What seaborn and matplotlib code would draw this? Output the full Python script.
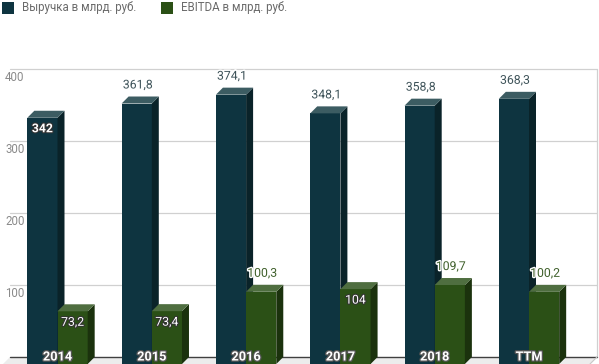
import numpy as np
import pandas as pd
import seaborn as sns
import matplotlib
matplotlib.use("Agg")
import matplotlib.pyplot as plt
import matplotlib.transforms as mtransforms
import matplotlib.patheffects as pe
from matplotlib.patches import Polygon, Rectangle

categories = ["2014", "2015", "2016", "2017", "2018", "TTM"]
revenue = [342, 361.8, 374.1, 348.1, 358.8, 368.3]
ebitda = [73.2, 73.4, 100.3, 104, 109.7, 100.2]
series_names = ["Выручка в млрд. руб.", "EBITDA в млрд. руб."]
label_inside = [[True, False, False, False, False, False],
                [True, True, False, True, False, False]]
y_ticks = [100, 200, 300, 400]

sns.set_theme(style="white")
plt.rcParams["font.family"] = ["Roboto", "DejaVu Sans"]

front_c = ["#0e3440", "#2b5016"]
top_c = ["#3c5c62", "#4f6e40"]
side_c = ["#0a2329", "#1b320d"]
lab_c = ["#3d5258", "#3e5f2a"]

W, H = 599, 364
fig = plt.figure(figsize=(W / 100, H / 100), dpi=100)
# front plane of the 3D box
L, R, T, B = 3, 590, 76, 364
ax = fig.add_axes([L / W, (H - B) / H, (R - L) / W, (B - T) / H])

df = pd.DataFrame({
    "cat": categories * 2,
    "value": revenue + ebitda,
    "series": [series_names[0]] * len(categories) + [series_names[1]] * len(categories),
})
sns.barplot(data=df, x="cat", y="value", hue="series", order=categories,
            hue_order=series_names, palette=front_c, width=0.64, saturation=1,
            legend=False, ax=ax, linewidth=0, zorder=3)

spacing = 94.3
x_left = -54.5 / spacing
ax.set_xlim(x_left, x_left + (R - L) / spacing)
ax.set_ylim(0, 400)
for s in ax.spines.values():
    s.set_visible(False)
ax.set_xlabel("")
ax.set_ylabel("")
ax.set_xticks([])
ax.set_yticks(y_ticks)
ax.set_yticklabels([str(v) for v in y_ticks])
ax.tick_params(axis="y", length=0, pad=-1.5, labelsize=8.3, labelcolor="#8a8a8a")
for lab in ax.get_yticklabels():
    lab.set_horizontalalignment("left")

depth = 7
off = mtransforms.ScaledTranslation(depth / 100, depth / 100, fig.dpi_scale_trans)
back = ax.get_yaxis_transform() + off
# back-wall gridlines
for v in y_ticks:
    ax.plot([0, 1], [v, v], transform=back, color="#d0d0d0", lw=0.9, zorder=1, clip_on=False)
ax.plot([1, 1], [0, 400], transform=back, color="#d0d0d0", lw=0.9, zorder=1, clip_on=False)

# floor
px_x = (R - L) / (ax.get_xlim()[1] - ax.get_xlim()[0])
px_y = (B - T) / 400
dxd = depth / px_x
dyd = depth / px_y
x0l, x1l = ax.get_xlim()
floor = Polygon([(x0l, 0), (x0l + dxd, dyd), (x1l + dxd, dyd), (x1l, 0)],
                closed=True, facecolor="#ececec", edgecolor="none", zorder=1, clip_on=False)
ax.add_patch(floor)
ax.plot([x0l + dxd, x1l + dxd], [dyd, dyd], color="#404040", lw=1.0, zorder=1.5, clip_on=False)
ax.plot([x1l + dxd, x1l], [dyd, 0], color="#c8c8c8", lw=0.8, zorder=1.5, clip_on=False)

# 3D faces and labels
for si, cont in enumerate(ax.containers):
    for bi, rect in enumerate(cont.patches):
        x0 = rect.get_x()
        w = rect.get_width()
        h = rect.get_height()
        z = 3 + si
        rect.set_zorder(z)
        top = Polygon([(x0, h), (x0 + dxd, h + dyd), (x0 + w + dxd, h + dyd), (x0 + w, h)],
                      closed=True, facecolor=top_c[si], edgecolor="none", zorder=z, clip_on=False)
        side = Polygon([(x0 + w, 0), (x0 + w + dxd, dyd), (x0 + w + dxd, h + dyd), (x0 + w, h)],
                       closed=True, facecolor=side_c[si], edgecolor="none", zorder=z, clip_on=False)
        ax.add_patch(side)
        ax.add_patch(top)
        v = revenue[bi] if si == 0 else ebitda[bi]
        txt = f"{v:g}".replace(".", ",")
        if label_inside[si][bi]:
            ax.annotate(txt, (x0 + w / 2, h), xytext=(0, -11), textcoords="offset pixels",
                        ha="center", va="center", fontsize=8.8, color="white",
                        fontweight="bold" if si == 0 else "normal", zorder=10,
                        path_effects=[pe.withStroke(linewidth=1.5, foreground="#333333")])
        else:
            ax.annotate(txt, (x0 + w / 2, h + dyd), xytext=(1, 5), textcoords="offset pixels",
                        ha="center", va="bottom", fontsize=8.8, color=lab_c[si], zorder=10,
                        path_effects=[pe.withStroke(linewidth=2, foreground="white")])

# category labels
for ci, c in enumerate(categories):
    ax.annotate(c, (ci, 0), xytext=(0, 7), textcoords="offset pixels", ha="center",
                va="center", fontsize=9.2, fontweight="bold", color="white", zorder=12,
                annotation_clip=False,
                path_effects=[pe.withStroke(linewidth=1.8, foreground="#555555")])

# legend
leg_x = [2, 161]
for i, name in enumerate(series_names):
    fig.patches.append(Rectangle((leg_x[i] / W, (H - 14) / H), 12 / W, 12 / H,
                                 transform=fig.transFigure, facecolor=front_c[i],
                                 edgecolor="none"))
    fig.text((leg_x[i] + 20) / W, (H - 8) / H, name, ha="left", va="center",
             fontsize=8.3, color="#6b6b6b")

fig.savefig("out.png", dpi=100)
